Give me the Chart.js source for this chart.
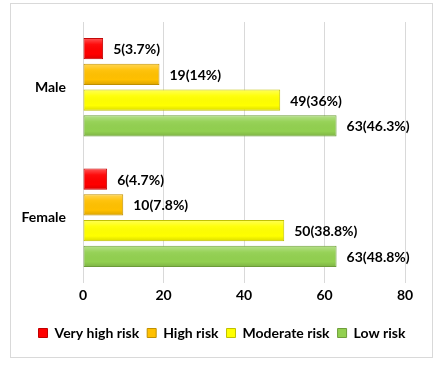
<!DOCTYPE html>
<html><head><meta charset="utf-8">
<script src="https://cdn.jsdelivr.net/npm/chart.js@4"></script>
<style>
html,body{margin:0;padding:0;background:#fff;}
#box{position:absolute;left:10px;top:3px;width:421px;height:353px;border:1px solid #d9d9d9;}
canvas{display:block;}
</style></head><body>
<div id="box"><canvas id="c" width="421" height="353"></canvas></div>
<script>
const categories = ['Male', 'Female'];
const seriesNames = ['Very high risk', 'High risk', 'Moderate risk', 'Low risk'];
const veryHigh = [5, 6];
const high = [19, 10];
const moderate = [49, 50];
const low = [63, 63];
const veryHighPct = ['3.7%', '4.7%'];
const highPct = ['14%', '7.8%'];
const moderatePct = ['36%', '38.8%'];
const lowPct = ['46.3%', '48.8%'];
const xTicks = [0, 20, 40, 60, 80];

const FONT = 'Lato';
const FS = 14;
const fills = ['#FF0000', '#FFC000', '#FFFF00', '#92D050'];
const borders = ['#C00000', '#C09000', '#C0C000', '#6E9E3A'];
const values = [veryHigh, high, moderate, low];
const pcts = [veryHighPct, highPct, moderatePct, lowPct];

const labelPlugin = {
  id: 'lbl',
  afterLayout(chart) {
    if (chart.legend) { chart.legend.left += 14; chart.legend.right += 14; }
  },
  afterDatasetsDraw(chart) {
    const ctx = chart.ctx;
    ctx.save();
    chart.data.datasets.forEach((ds, i) => {
      const meta = chart.getDatasetMeta(i);
      meta.data.forEach((bar) => {
        const top = bar.y - bar.height / 2, h = bar.height;
        const l = Math.min(bar.base, bar.x), w = Math.abs(bar.x - bar.base);
        const g = ctx.createLinearGradient(0, top, 0, top + h);
        g.addColorStop(0, 'rgba(255,255,255,0.35)');
        g.addColorStop(0.3, 'rgba(255,255,255,0.05)');
        g.addColorStop(0.75, 'rgba(0,0,0,0)');
        g.addColorStop(1, 'rgba(0,0,0,0.15)');
        ctx.fillStyle = g;
        ctx.fillRect(l + 1, top + 1, w - 2, h - 2);
      });
    });
    ctx.font = 'bold ' + FS + 'px ' + FONT;
    ctx.fillStyle = '#000';
    ctx.textBaseline = 'middle';
    ctx.textAlign = 'left';
    chart.data.datasets.forEach((ds, i) => {
      const meta = chart.getDatasetMeta(i);
      meta.data.forEach((bar, j) => {
        ctx.fillText(ds.data[j] + '(' + pcts[i][j] + ')', bar.x + 10, bar.y + 1);
      });
    });
    ctx.restore();
  }
};

new Chart(document.getElementById('c'), {
  type: 'bar',
  data: {
    labels: categories,
    datasets: seriesNames.map((n, i) => ({
      label: n,
      data: values[i],
      backgroundColor: fills[i],
      borderColor: borders[i],
      borderWidth: 1,
      borderSkipped: false,
      categoryPercentage: 0.79,
      barPercentage: 0.83
    }))
  },
  options: {
    indexAxis: 'y',
    responsive: false,
    animation: false,
    layout: { padding: { top: 18, right: 27, left: 0, bottom: 7 } },
    scales: {
      x: {
        min: 0, max: 80,
        afterBuildTicks(scale) { scale.ticks = xTicks.map(v => ({ value: v })); },
        afterFit(scale) { scale.height = 35; },
        ticks: { font: { family: FONT, weight: 'bold', size: FS }, color: '#000', padding: 4 },
        grid: { color: '#d9d9d9', drawTicks: false },
        border: { display: false }
      },
      y: {
        afterFit(scale) { scale.width = 72; scale.paddingTop = 0; scale.paddingBottom = 0; },
        ticks: { font: { family: FONT, weight: 'bold', size: FS }, color: '#000', padding: 9 },
        grid: { display: false },
        border: { display: false }
      }
    },
    plugins: {
      legend: {
        position: 'bottom',
        labels: {
          boxWidth: 9, boxHeight: 9, padding: 8,
          font: { family: FONT, weight: 'bold', size: FS }, color: '#000'
        }
      },
      tooltip: { enabled: false }
    }
  },
  plugins: [labelPlugin]
});
</script>
</body></html>
